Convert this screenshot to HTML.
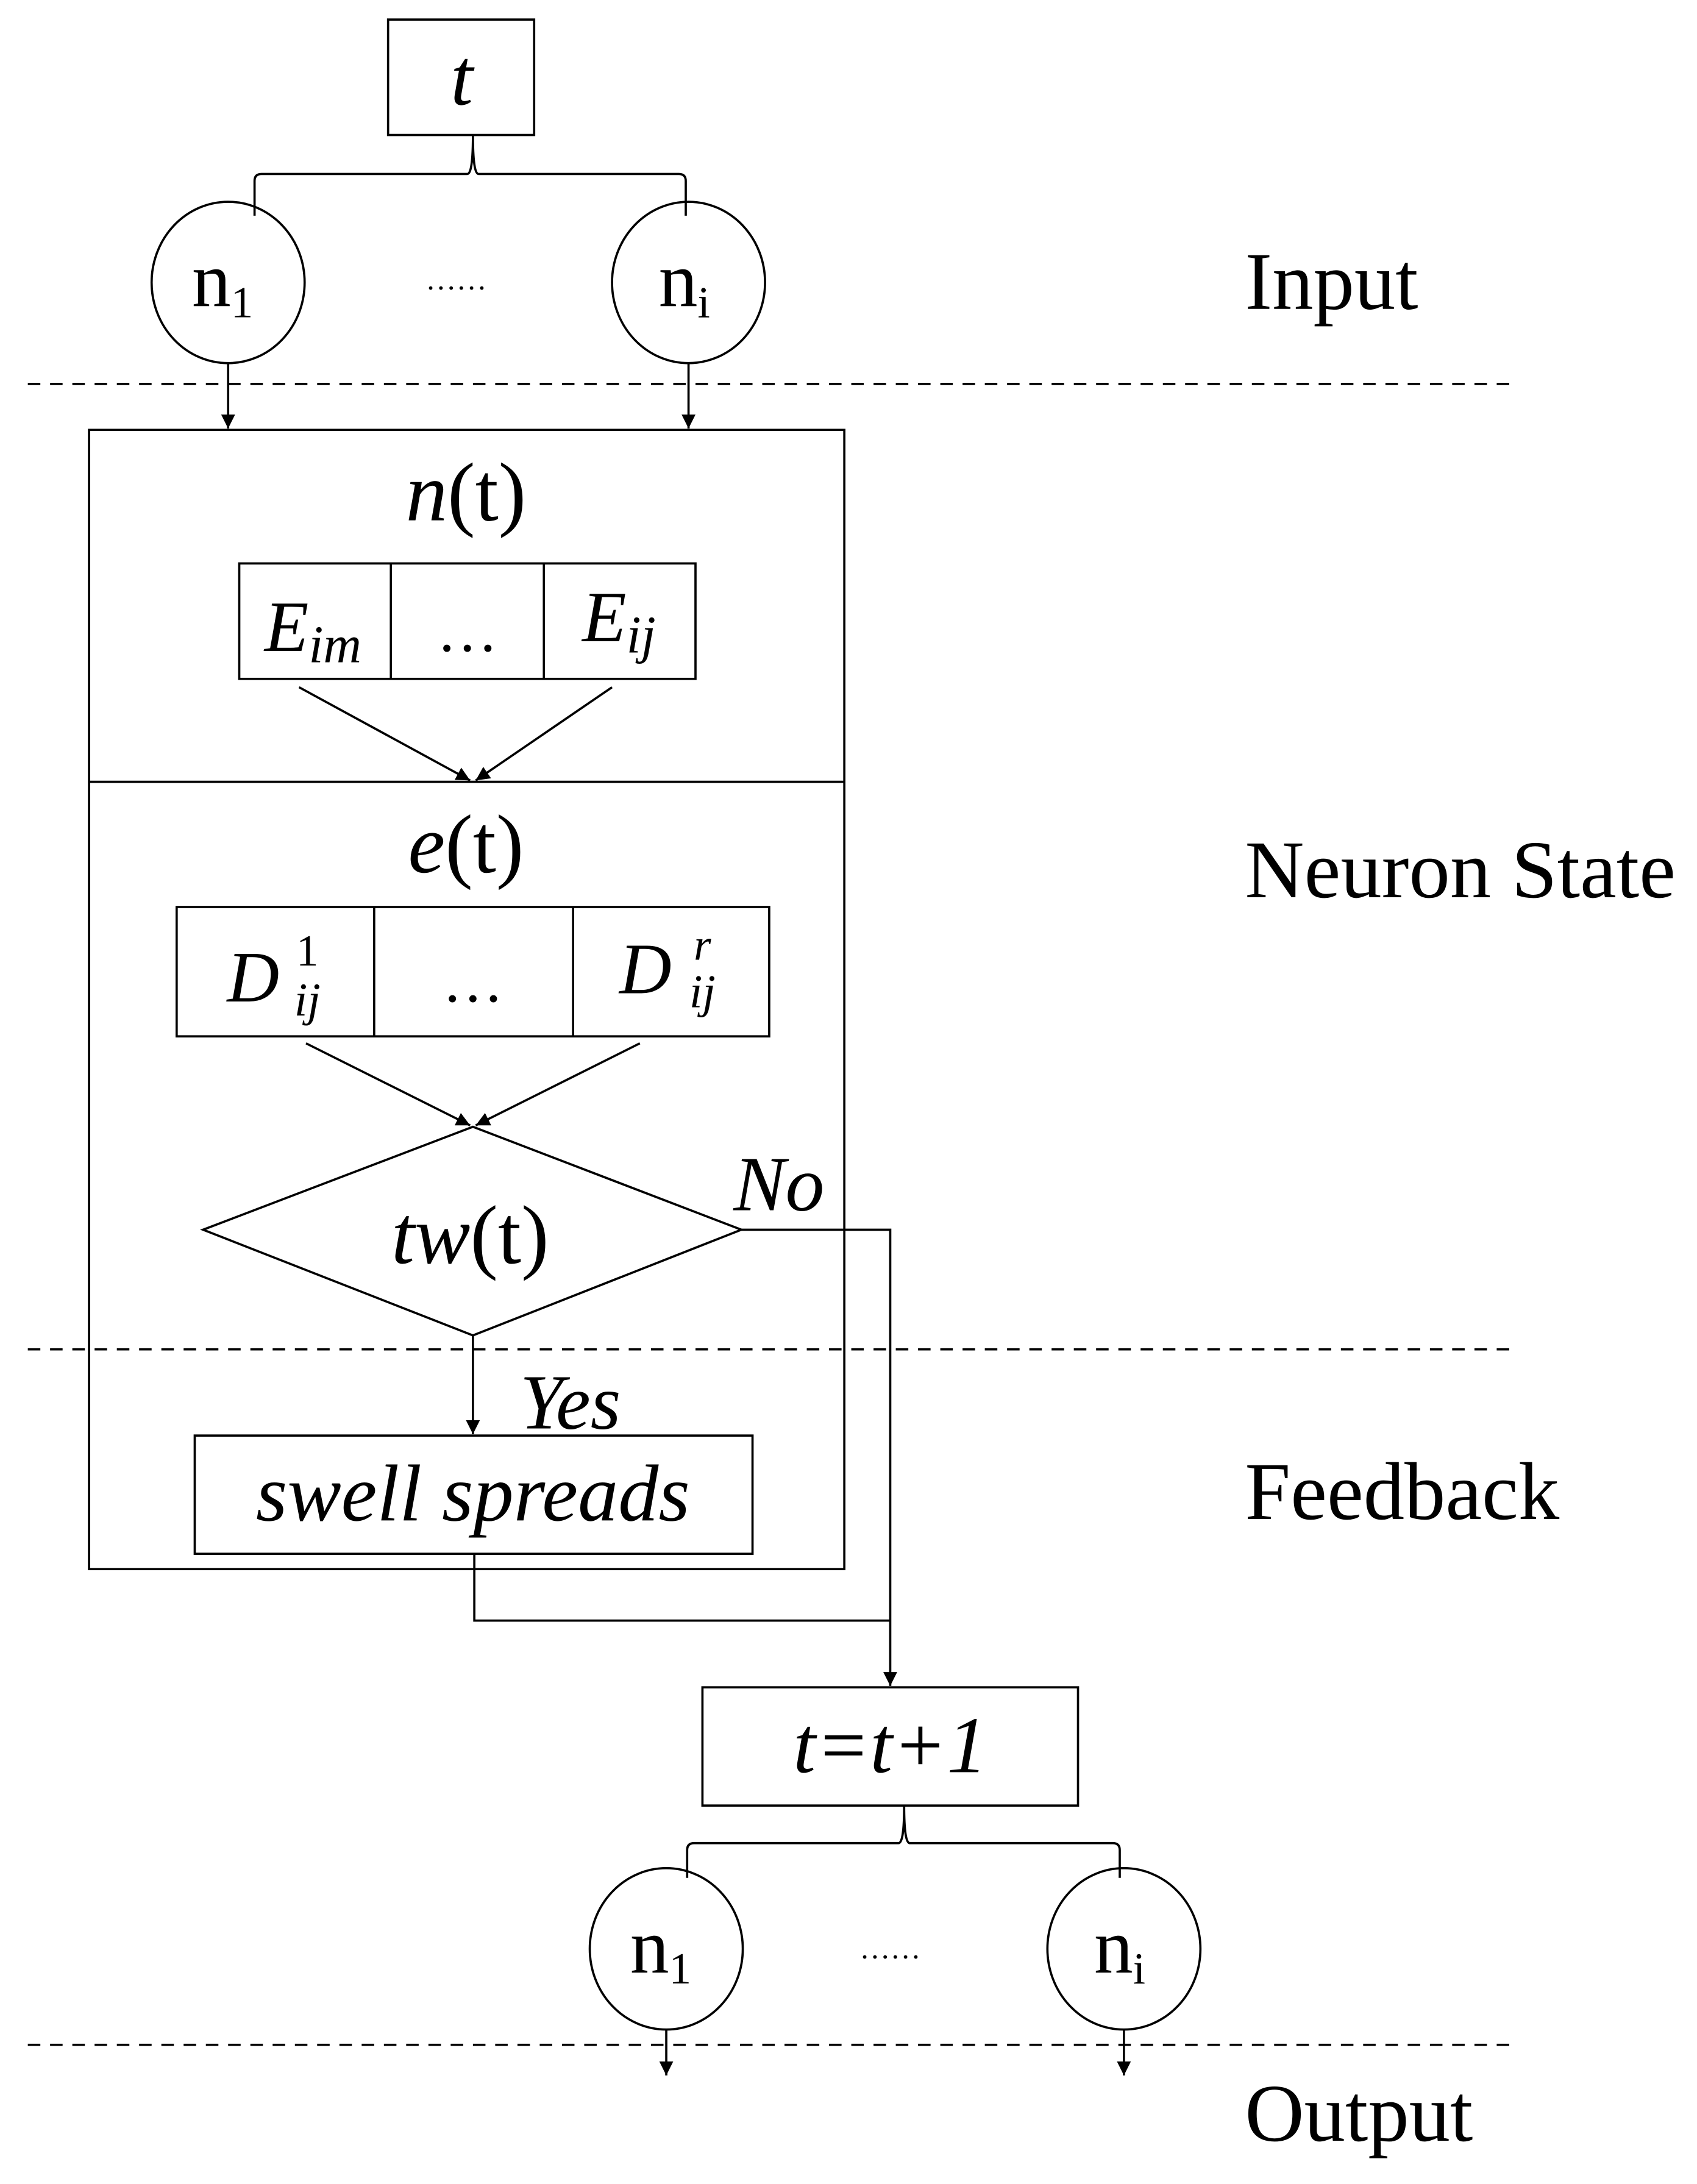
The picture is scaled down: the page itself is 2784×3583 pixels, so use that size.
<!DOCTYPE html>
<html><head><meta charset="utf-8"><style>
html,body{margin:0;padding:0;background:#fff;}
svg{display:block;}
text{font-family:"Liberation Serif",serif;fill:#000;}
</style></head><body>
<svg width="2784" height="3583" viewBox="0 0 1220 1570" xmlns="http://www.w3.org/2000/svg">
<defs>
<marker id="b" viewBox="0 0 10 10" markerWidth="10" markerHeight="10" refX="10" refY="5" orient="auto" markerUnits="userSpaceOnUse">
<path d="M0,0 L10,5 L0,10 Z" fill="#000"/>
</marker>
</defs>
<g fill="none" stroke="#000" stroke-width="1.6">
<rect x="279" y="14" width="105" height="83"/>
<path d="M340,97 Q340,125 336,125 L188,125 Q183,125 183,130 L183,155 M340,97 Q340,125 344,125 L488,125 Q493,125 493,130 L493,155"/>
<ellipse cx="164" cy="203" rx="55" ry="58"/>
<ellipse cx="495" cy="203" rx="55" ry="58"/>
<path d="M20,276 H1088 M20,970 H1088 M20,1470 H1088" stroke-dasharray="9,7"/>
<line x1="164" y1="261" x2="164" y2="308" marker-end="url(#b)"/>
<line x1="495" y1="261" x2="495" y2="308" marker-end="url(#b)"/>
<rect x="64" y="309" width="543" height="819"/>
<line x1="64" y1="562" x2="607" y2="562"/>
<rect x="172" y="405" width="328" height="83"/>
<line x1="281" y1="405" x2="281" y2="488"/>
<line x1="391" y1="405" x2="391" y2="488"/>
<line x1="215" y1="494" x2="338" y2="561" marker-end="url(#b)"/>
<line x1="440" y1="494" x2="342" y2="561" marker-end="url(#b)"/>
<rect x="127" y="652" width="426" height="93"/>
<line x1="269" y1="652" x2="269" y2="745"/>
<line x1="412" y1="652" x2="412" y2="745"/>
<line x1="220" y1="750" x2="338" y2="809" marker-end="url(#b)"/>
<line x1="460" y1="750" x2="342" y2="809" marker-end="url(#b)"/>
<path d="M340,810 L533,884 L340,960 L146,884 Z"/>
<path d="M533,884 H640 V1212" marker-end="url(#b)"/>
<line x1="340" y1="960" x2="340" y2="1031" marker-end="url(#b)"/>
<rect x="140" y="1032" width="401" height="85"/>
<path d="M341,1117 V1165 H640"/>
<rect x="505" y="1213" width="270" height="85"/>
<path d="M650,1298 Q650,1325 646,1325 L499,1325 Q494,1325 494,1330 L494,1350 M650,1298 Q650,1325 654,1325 L800,1325 Q805,1325 805,1330 L805,1350"/>
<ellipse cx="479" cy="1401" rx="55" ry="58"/>
<ellipse cx="808" cy="1401" rx="55" ry="58"/>
<line x1="479" y1="1459" x2="479" y2="1492" marker-end="url(#b)"/>
<line x1="808" y1="1459" x2="808" y2="1492" marker-end="url(#b)"/>
</g>
<g font-size="56" text-anchor="middle">
<text x="332" y="75" font-style="italic" font-size="58">t</text>
<text x="160" y="220">n<tspan font-size="32" dy="8">1</tspan></text>
<text x="492" y="220">n<tspan font-size="32" dy="8">i</tspan></text>
<text x="328" y="208" font-size="22">……</text>
<text x="335" y="374" font-size="60"><tspan font-style="italic">n</tspan>(t)</text>
<text x="225" y="468" font-style="italic" font-size="52">E<tspan font-size="38" dy="8">im</tspan></text>
<text x="336" y="468" font-size="44">…</text>
<text x="445" y="461" font-style="italic" font-size="52">E<tspan font-size="38" dy="8">ij</tspan></text>
<text x="335" y="627" font-size="60"><tspan font-style="italic">e</tspan>(t)</text>
<text x="182" y="720" font-style="italic" font-size="52">D</text>
<text x="221" y="694" font-size="32">1</text>
<text x="221" y="730" font-style="italic" font-size="34">ij</text>
<text x="340" y="720" font-size="44">…</text>
<text x="464" y="714" font-style="italic" font-size="52">D</text>
<text x="505" y="690" font-style="italic" font-size="32">r</text>
<text x="505" y="724" font-style="italic" font-size="34">ij</text>
<text x="338" y="908" font-size="60"><tspan font-style="italic">tw</tspan>(t)</text>
<text x="560" y="870" font-style="italic">No</text>
<text x="410" y="1027" font-style="italic">Yes</text>
<text x="340" y="1093" font-style="italic" font-size="58">swell spreads</text>
<text x="640" y="1274" font-style="italic" font-size="58">t=t+1</text>
<text x="475" y="1418">n<tspan font-size="32" dy="8">1</tspan></text>
<text x="805" y="1418">n<tspan font-size="32" dy="8">i</tspan></text>
<text x="640" y="1408" font-size="22">……</text>
</g>
<g font-size="59">
<text x="895" y="222">Input</text>
<text x="895" y="645">Neuron State</text>
<text x="895" y="1092">Feedback</text>
<text x="895" y="1539">Output</text>
</g>
</svg>
</body></html>
